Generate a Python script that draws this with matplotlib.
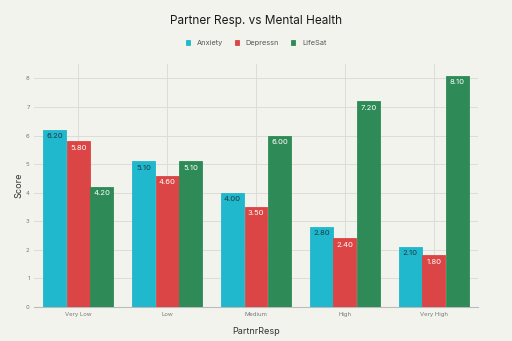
import numpy as np
import matplotlib.pyplot as plt

categories = ['Very Low', 'Low', 'Medium', 'High', 'Very High']
anxiety = [6.2, 5.1, 4.0, 2.8, 2.1]
depressn = [5.8, 4.6, 3.5, 2.4, 1.8]
lifesat = [4.2, 5.1, 6.0, 7.2, 8.1]
series_names = ['Anxiety', 'Depressn', 'LifeSat']

plt.rcParams['font.family'] = ['Inter', 'DejaVu Sans']

bg = '#F3F3EE'
colors = ['#1FB8CD', '#DB4545', '#2E8B57']
label_colors = ['#1f3b44', 'white', 'white']

fig = plt.figure(figsize=(5.12, 3.41), dpi=100, facecolor=bg)
ax = fig.add_axes([0.066, 0.10, 0.868, 0.712], facecolor=bg)

x = np.arange(len(categories))
width = 0.265
for i, (name, vals) in enumerate(zip(series_names, [anxiety, depressn, lifesat])):
    pos = x + (i - 1) * width
    ax.bar(pos, vals, width * 0.97, color=colors[i], edgecolor=colors[i],
           linewidth=0.6, label=name, zorder=3)
    for xp, v in zip(pos, vals):
        ax.text(xp, v - 0.12, f'{v:.2f}', ha='center', va='top', fontsize=5.5,
                color=label_colors[i], zorder=4)

ax.set_xlim(-0.5, 4.5)
ax.set_ylim(0, 8.5)
ax.set_yticks(range(0, 9))
ax.set_xticks(x)
ax.set_xticklabels(categories)
ax.tick_params(axis='x', length=0, labelsize=4.3, colors='#777777', pad=4)
ax.tick_params(axis='y', length=0, labelsize=4.3, colors='#777777', pad=3)
ax.grid(True, color='#DDDDD8', linewidth=0.7, zorder=0)
for s in ['top', 'right', 'left']:
    ax.spines[s].set_visible(False)
ax.spines['bottom'].set_color('#BBBBBB')
ax.spines['bottom'].set_linewidth(0.8)

ax.set_ylabel('Score', fontsize=6.5, color='#333333', labelpad=2)
ax.set_xlabel('PartnrResp', fontsize=6.5, color='#333333', labelpad=7)

fig.text(0.5, 0.938, 'Partner Resp. vs Mental Health', ha='center', va='center',
         fontsize=8.5, color='#1a1a1a')
fig.legend(loc='center', bbox_to_anchor=(0.5, 0.874), ncol=3, frameon=False,
           fontsize=5.3, handlelength=0.6, handleheight=0.6, columnspacing=1.6,
           handletextpad=0.9, labelcolor='#555555')

fig.savefig('out.png', dpi=100, facecolor=bg)
